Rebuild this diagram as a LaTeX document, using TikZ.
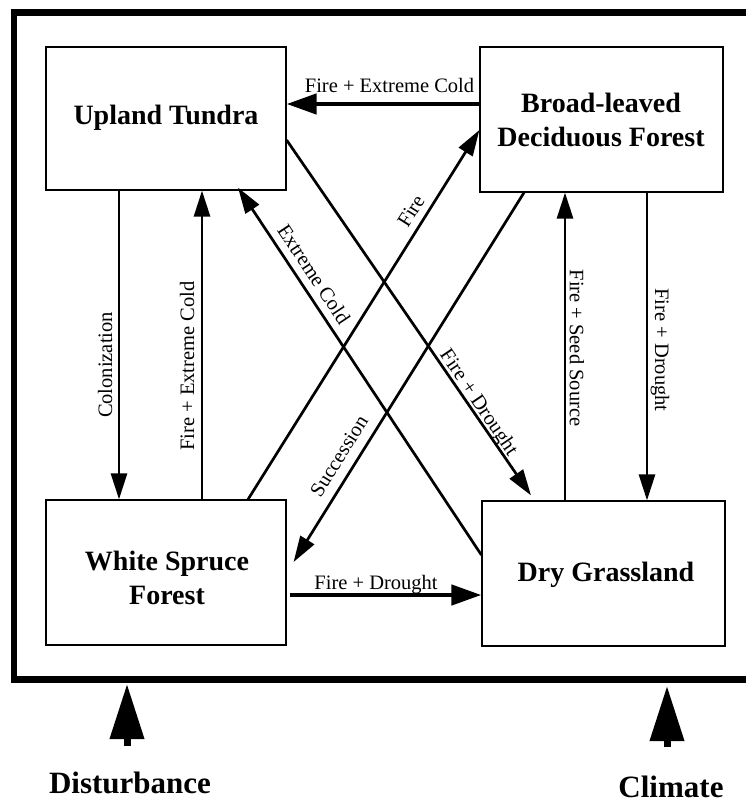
\documentclass[tikz,border=0pt]{standalone}
\usepackage{fontspec}
\setmainfont{Liberation Serif}
\usetikzlibrary{arrows.meta}
\begin{document}
\begin{tikzpicture}[x=1pt,y=-1pt,
  box/.style={draw, line width=1.2pt, rectangle, inner sep=0pt},
  boxtext/.style={inner sep=0pt, align=center,
    font=\fontsize{28}{34}\selectfont\bfseries},
  conn/.style={line width=2.7pt, -{Triangle[length=26pt,width=16pt]}},
  thickconn/.style={line width=4.5pt, -{Triangle[length=30pt,width=20pt]}},
  bigarrow/.style={line width=7pt, -{Triangle[length=55pt,width=33pt]}},
  lbl/.style={font=\fontsize{20.5}{24}\selectfont, inner sep=0pt},
  biglbl/.style={font=\fontsize{31}{36}\selectfont\bfseries, inner sep=0pt}]
\useasboundingbox (0,0) rectangle (746,803);
\clip (0,0) rectangle (746,803);
\fill[white] (0,0) rectangle (746,803);
% outer frame
\node[draw, line width=6.5pt, minimum width=746pt, minimum height=667pt, inner sep=0pt] (frame) at (387,346) {};
% boxes
\node[box, minimum width=240pt, minimum height=143pt] (ut) at (166,118.5) {};
\node[box, minimum width=243pt, minimum height=145pt] (bd) at (601.5,119.5) {};
\node[box, minimum width=240pt, minimum height=145pt] (ws) at (166,572.5) {};
\node[box, minimum width=243pt, minimum height=145pt] (dg) at (603.5,573.5) {};
\node[boxtext] (utText) at (166,118) {Upland Tundra};
\node[boxtext] (bdText) at (601,120) {Broad-leaved\\Deciduous Forest};
\node[boxtext] (wsText) at (167,578) {White Spruce\\Forest};
\node[boxtext] (dgText) at (606,575) {Dry Grassland};
% connectors
\draw[thickconn] ([yshift=15.5pt]bd.west) -- ([yshift=14.5pt]ut.east);
\draw[conn] ([xshift=-47pt]ut.south) -- ([xshift=-47pt]ws.north);
\draw[conn] ([xshift=36pt]ws.north) -- ([xshift=36pt]ut.south);
\draw[conn] ([yshift=18.5pt]dg.west) -- ([xshift=72pt,yshift=3pt]ut.south);
\draw[conn] ([yshift=-21.5pt]ut.east) -- ([xshift=-72.5pt,yshift=5pt]dg.north);
\draw[conn] ([xshift=82pt]ws.north) -- ([yshift=-10.5pt]bd.west);
\draw[conn] ([xshift=-77.5pt]bd.south) -- ([xshift=7pt,yshift=10.5pt]ws.east);
\draw[conn] ([xshift=-38.5pt]dg.north) -- ([xshift=-36.5pt]bd.south);
\draw[conn] ([xshift=45.5pt]bd.south) -- ([xshift=43.5pt]dg.north);
\draw[thickconn] ([xshift=3pt,yshift=-22.5pt]ws.east) -- ([yshift=-21.5pt]dg.west);
% connector labels
\node[lbl, anchor=base] (l1) at (389.5,92) {Fire + Extreme Cold};
\node[lbl, anchor=base] (l10) at (376,589) {Fire + Drought};
\node[lbl, rotate=90] (l2) at (105,365) {Colonization};
\node[lbl, rotate=90] (l3) at (187,366) {Fire + Extreme Cold};
\node[lbl, rotate=-90] (l8) at (577,348) {Fire + Seed Source};
\node[lbl, rotate=-90] (l9) at (660,350) {Fire + Drought};
\node[lbl, rotate=-56.5] (l4) at (314,274) {Extreme Cold};
\node[lbl, rotate=-55.9] (l5) at (478,403) {Fire + Drought};
\node[lbl, rotate=57.8] (l6) at (411,211) {Fire};
\node[lbl, rotate=58] (l7) at (339,456) {Succession};
% external drivers
\node[biglbl, anchor=base] (dist) at (130,793) {Disturbance};
\node[biglbl, anchor=base] (clim) at (671,797) {Climate};
\coordinate (distTip) at (127,684);
\coordinate (climTip) at (667,686);
\draw[bigarrow] ([xshift=-3pt,yshift=25pt]dist.north) -- (distTip);
\draw[bigarrow] ([xshift=-4pt,yshift=28pt]clim.north) -- (climTip);
\end{tikzpicture}
\end{document}
